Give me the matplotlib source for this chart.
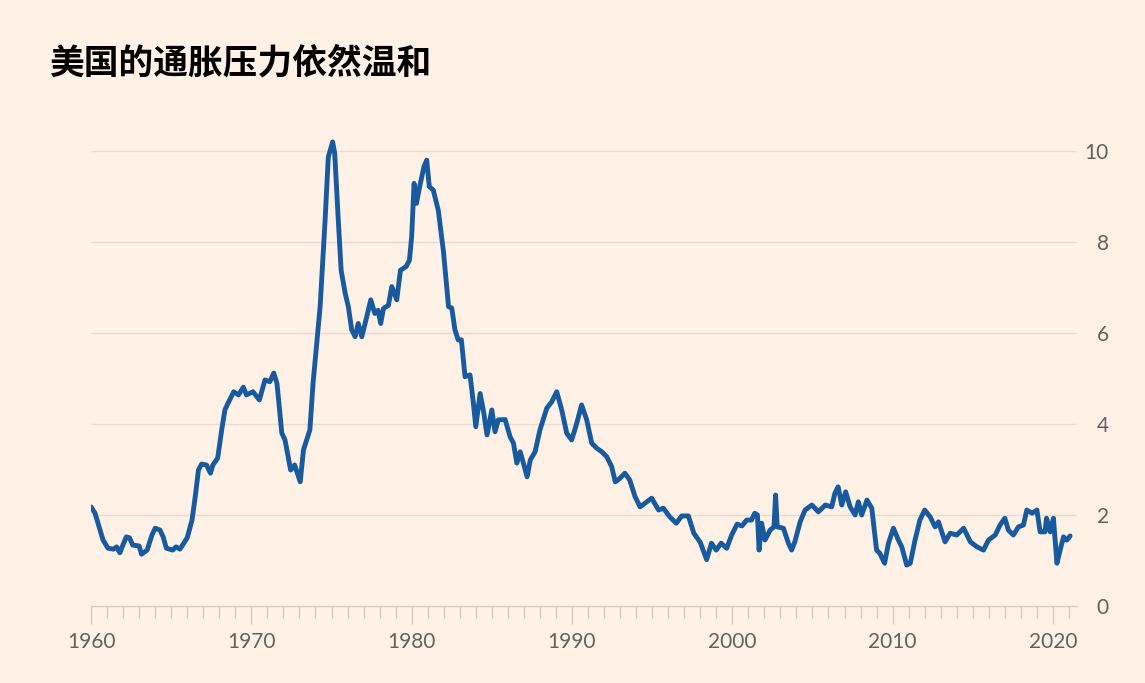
import matplotlib
matplotlib.use("Agg")
import matplotlib.pyplot as plt
from matplotlib.ticker import MultipleLocator

plt.rcParams['font.family'] = ['Lato', 'DejaVu Sans']

title = "美国的通胀压力依然温和"

# year (decimal) and annual inflation rate, %
years = [
    1960.0, 1960.25, 1960.56, 1960.75, 1961.06, 1961.4, 1961.6, 1961.8, 1962.0, 1962.2,
    1962.4, 1962.6, 1963.0, 1963.15, 1963.5, 1963.8, 1964.0, 1964.3, 1964.5, 1964.7,
    1965.1, 1965.3, 1965.55, 1966.0, 1966.3, 1966.5, 1966.7, 1966.9, 1967.2, 1967.45,
    1967.6, 1967.9, 1968.15, 1968.35, 1968.55, 1968.9, 1969.2, 1969.5, 1969.7, 1970.1,
    1970.5, 1970.85, 1971.15, 1971.4, 1971.6, 1971.9, 1972.1, 1972.45, 1972.7, 1973.05,
    1973.25, 1973.65, 1973.85, 1974.29, 1974.6, 1974.8, 1975.07, 1975.2, 1975.4, 1975.6,
    1975.85, 1976.05, 1976.26, 1976.47, 1976.67, 1976.89, 1977.2, 1977.45, 1977.7, 1977.9,
    1978.07, 1978.24, 1978.55, 1978.76, 1979.07, 1979.3, 1979.65, 1979.86, 1980.0, 1980.15,
    1980.3, 1980.5, 1980.77, 1980.94, 1981.1, 1981.35, 1981.66, 1981.98, 1982.3, 1982.5,
    1982.7, 1982.9, 1983.1, 1983.33, 1983.64, 1983.85, 1984.0, 1984.27, 1984.5, 1984.7,
    1985.0, 1985.2, 1985.4, 1985.83, 1986.14, 1986.35, 1986.56, 1986.77, 1986.97, 1987.2,
    1987.4, 1987.7, 1988.0, 1988.43, 1988.74, 1989.05, 1989.36, 1989.67, 1989.98, 1990.3,
    1990.6, 1990.92, 1991.23, 1991.54, 1991.86, 1992.17, 1992.48, 1992.7, 1993.0, 1993.3,
    1993.6, 1993.94, 1994.25, 1994.67, 1994.97, 1995.4, 1995.7, 1996.1, 1996.5, 1996.85,
    1997.26, 1997.6, 1998.0, 1998.4, 1998.7, 1999.0, 1999.3, 1999.65, 1999.96, 2000.3,
    2000.6, 2000.9, 2001.2, 2001.4, 2001.57, 2001.67, 2001.83, 2002.04, 2002.36, 2002.6,
    2002.7, 2002.8, 2003.19, 2003.5, 2003.7, 2003.9, 2004.23, 2004.54, 2004.96, 2005.37,
    2005.8, 2006.2, 2006.4, 2006.6, 2006.83, 2007.07, 2007.35, 2007.66, 2007.86, 2008.07,
    2008.4, 2008.7, 2009.0, 2009.2, 2009.5, 2009.74, 2010.05, 2010.36, 2010.57, 2010.88,
    2011.1, 2011.4, 2011.7, 2012.0, 2012.34, 2012.65, 2012.86, 2013.27, 2013.59, 2014.0,
    2014.43, 2014.85, 2015.26, 2015.67, 2015.98, 2016.4, 2016.7, 2017.0, 2017.22, 2017.53,
    2017.85, 2018.16, 2018.37, 2018.7, 2019.0, 2019.2, 2019.5, 2019.6, 2019.83, 2020.03,
    2020.25, 2020.45, 2020.66, 2020.87, 2021.07,
]
inflation = [
    2.18, 2.04, 1.67, 1.45, 1.27, 1.25, 1.30, 1.17, 1.35, 1.52,
    1.50, 1.34, 1.32, 1.14, 1.23, 1.56, 1.71, 1.67, 1.52, 1.27,
    1.23, 1.30, 1.25, 1.50, 1.89, 2.40, 2.99, 3.12, 3.10, 2.92,
    3.10, 3.25, 3.87, 4.31, 4.46, 4.71, 4.64, 4.81, 4.64, 4.71,
    4.53, 4.97, 4.93, 5.12, 4.89, 3.80, 3.65, 2.99, 3.10, 2.73,
    3.43, 3.87, 4.90, 6.58, 8.48, 9.87, 10.20, 9.95, 8.63, 7.38,
    6.88, 6.58, 6.07, 5.92, 6.21, 5.92, 6.36, 6.73, 6.43, 6.50,
    6.21, 6.54, 6.61, 7.02, 6.73, 7.38, 7.46, 7.60, 8.12, 9.29,
    8.85, 9.22, 9.66, 9.80, 9.22, 9.14, 8.70, 7.80, 6.58, 6.55,
    6.07, 5.85, 5.85, 5.04, 5.08, 4.46, 3.94, 4.67, 4.24, 3.76,
    4.31, 3.83, 4.09, 4.10, 3.72, 3.58, 3.14, 3.39, 3.14, 2.84,
    3.21, 3.39, 3.87, 4.35, 4.49, 4.71, 4.31, 3.80, 3.65, 4.02,
    4.42, 4.09, 3.58, 3.47, 3.39, 3.28, 3.06, 2.73, 2.81, 2.92,
    2.77, 2.40, 2.18, 2.29, 2.37, 2.11, 2.15, 1.96, 1.82, 1.98,
    1.98, 1.60, 1.40, 1.02, 1.38, 1.23, 1.38, 1.27, 1.56, 1.80,
    1.76, 1.89, 1.89, 2.04, 2.00, 1.23, 1.82, 1.45, 1.67, 1.74,
    2.44, 1.74, 1.71, 1.38, 1.23, 1.41, 1.85, 2.11, 2.22, 2.07,
    2.22, 2.18, 2.48, 2.62, 2.22, 2.51, 2.18, 2.00, 2.29, 2.00,
    2.33, 2.15, 1.23, 1.16, 0.94, 1.38, 1.71, 1.45, 1.30, 0.90,
    0.94, 1.45, 1.89, 2.11, 1.96, 1.74, 1.85, 1.41, 1.60, 1.56,
    1.71, 1.41, 1.30, 1.23, 1.45, 1.56, 1.78, 1.93, 1.67, 1.56,
    1.74, 1.78, 2.11, 2.04, 2.11, 1.63, 1.63, 1.93, 1.63, 1.93,
    0.94, 1.23, 1.52, 1.45, 1.54,
]

y_ticks = [0, 2, 4, 6, 8, 10]
x_ticks = [1960, 1970, 1980, 1990, 2000, 2010, 2020]

bg = "#FFF1E5"
fig = plt.figure(figsize=(11.45, 6.83), dpi=100, facecolor=bg)
ax = fig.add_axes([0.0795, 0.1127, 0.8611, 0.6928], facecolor=bg)

ax.plot(years, inflation, color="#175AA0", lw=3.5, solid_joinstyle="round",
        solid_capstyle="round", zorder=3)

ax.set_xlim(1960, 2021.5)
ax.set_ylim(0, 10.4)

# grid
for v in y_ticks[1:]:
    ax.axhline(v, color="#E9DCD0", lw=1, zorder=1)

for s in ["top", "left", "right"]:
    ax.spines[s].set_visible(False)
ax.spines["bottom"].set_color("#D6CABF")
ax.spines["bottom"].set_linewidth(1)

ax.set_xticks(x_ticks)
ax.xaxis.set_minor_locator(MultipleLocator(1))
ax.tick_params(axis="x", which="major", length=13, width=1, color="#D6CABF",
               labelsize=15, labelcolor="#66605C", pad=6)
ax.tick_params(axis="x", which="minor", length=8.5, width=1, color="#D6CABF")

ax.yaxis.tick_right()
ax.set_yticks(y_ticks)
ax.tick_params(axis="y", length=0, labelsize=15, labelcolor="#66605C", pad=23)
for lab in ax.get_yticklabels():
    lab.set_horizontalalignment("right")

fig.text(0.044, 0.908, title, fontsize=25, fontweight="bold", color="#000000",
         family=["Noto Sans CJK SC", "DejaVu Sans"], va="center", ha="left")

fig.savefig("out.png", dpi=100, facecolor=bg)
